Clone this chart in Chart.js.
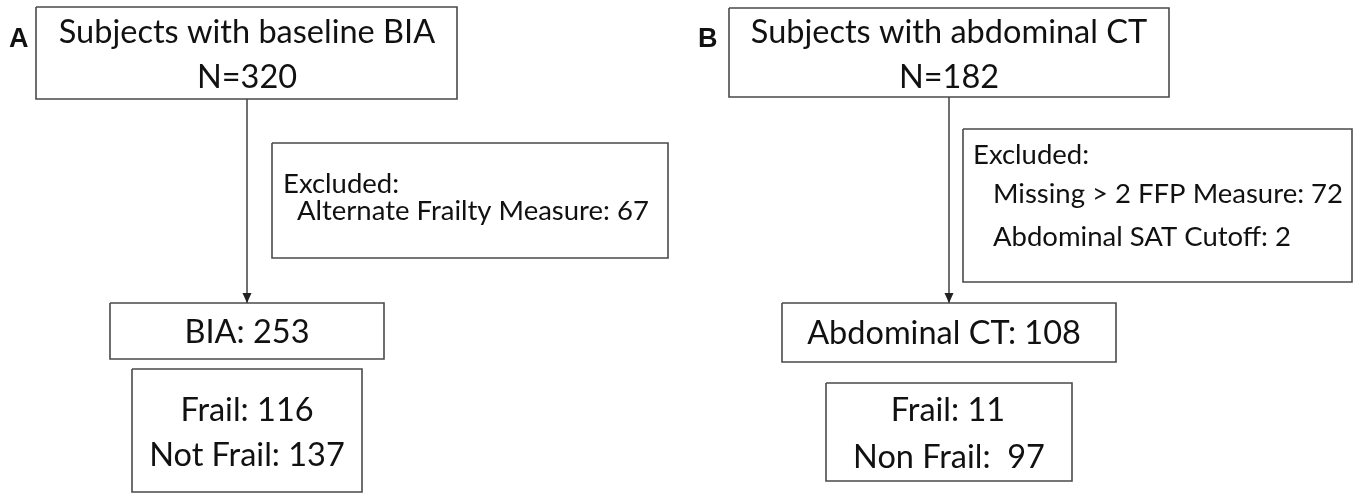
<!DOCTYPE html>
<html>
<head>
<meta charset="utf-8">
<script src="https://cdn.jsdelivr.net/npm/chart.js@4/dist/chart.umd.min.js"></script>
<style>
  html, body { margin: 0; padding: 0; background: #fff; }
  #wrap { width: 1356px; height: 493px; }
</style>
</head>
<body>
<div id="wrap"><canvas id="flow"></canvas></div>
<script>
// Panel letters
const panelLabels = ["A", "B"];

// Text of each box in the flow chart, one array of lines per box
const boxTexts = [
  ["Subjects with baseline BIA", "N=320"],
  ["Excluded:", "Alternate Frailty Measure: 67"],
  ["BIA: 253"],
  ["Frail: 116", "Not Frail: 137"],
  ["Subjects with abdominal CT", "N=182"],
  ["Excluded:", "Missing > 2 FFP Measure: 72", "Abdominal SAT Cutoff: 2"],
  ["Abdominal CT: 108"],
  ["Frail: 11", "Non Frail:  97"],
];

// Layout (diagram units = a 1356 x 493 sheet), kept apart from the text above
const boxRects = [
  [36, 7, 457, 99],
  [272, 143, 668, 258],
  [110, 303, 384, 359],
  [132, 369, 362, 492],
  [729, 8, 1169, 97],
  [963, 129, 1352, 282],
  [782, 303, 1116, 362],
  [826, 383, 1072, 481],
];
// where each line of text sits: [x, baseline y], align per box
const boxAlign = ["center", "left", "center", "center", "center", "left", "center", "center"];
const boxLineAnchors = [
  [[247, 43], [247, 88]],
  [[283, 193], [297, 220]],
  [[247, 343]],
  [[247, 421], [247, 466]],
  [[949, 43], [949, 88]],
  [[973, 164], [993, 203], [993, 246]],
  [[944, 344]],
  [[948, 421], [949, 468]],
];
const boxFontSize = [32.5, 27.5, 32.5, 32.5, 32.5, 27.5, 32.5, 32.5];
const arrows = [
  [[247, 99], [247, 303]],
  [[949, 97], [949, 303]],
];
const panelAnchors = [[9, 47], [698, 47]];

const boxColor = "#4a4a4a";
const textColor = "#111";

// closed outline for each box, drawn as a line dataset
const boxDatasets = boxRects.map((r) => ({
  data: [
    { x: r[0], y: r[1] },
    { x: r[2], y: r[1] },
    { x: r[2], y: r[3] },
    { x: r[0], y: r[3] },
    { x: r[0], y: r[1] },
  ],
  showLine: true,
  borderColor: boxColor,
  borderWidth: 1.6,
  pointRadius: 0,
  tension: 0,
  fill: false,
}));

const arrowDatasets = arrows.map((a) => ({
  data: a.map((p) => ({ x: p[0], y: p[1] })),
  showLine: true,
  borderColor: "#333",
  borderWidth: 1.4,
  pointRadius: 0,
  fill: false,
}));

// draws texts, panel letters and the arrow heads using the chart's scales
const flowText = {
  id: "flowText",
  afterDatasetsDraw(chart) {
    const ctx = chart.ctx;
    const xs = chart.scales.x;
    const ys = chart.scales.y;
    ctx.save();

    // arrow heads
    ctx.fillStyle = "#222";
    arrows.forEach((a) => {
      const tx = xs.getPixelForValue(a[1][0]);
      const ty = ys.getPixelForValue(a[1][1]);
      ctx.beginPath();
      ctx.moveTo(tx, ty);
      ctx.lineTo(tx - 4.5, ty - 10);
      ctx.lineTo(tx + 4.5, ty - 10);
      ctx.closePath();
      ctx.fill();
    });

    // box texts
    ctx.fillStyle = textColor;
    ctx.textBaseline = "alphabetic";
    boxTexts.forEach((lines, i) => {
      ctx.font = boxFontSize[i] + "px Lato, 'Open Sans', sans-serif";
      ctx.textAlign = boxAlign[i];
      lines.forEach((line, j) => {
        const p = boxLineAnchors[i][j];
        ctx.fillText(line, xs.getPixelForValue(p[0]), ys.getPixelForValue(p[1]));
      });
    });

    // panel letters
    ctx.font = "bold 27px 'Liberation Sans', Arial, sans-serif";
    ctx.textAlign = "left";
    panelLabels.forEach((lab, i) => {
      const p = panelAnchors[i];
      ctx.fillText(lab, xs.getPixelForValue(p[0]), ys.getPixelForValue(p[1]));
    });
    ctx.restore();
  },
};

new Chart(document.getElementById("flow"), {
  type: "scatter",
  data: { datasets: [...boxDatasets, ...arrowDatasets] },
  options: {
    responsive: true,
    maintainAspectRatio: false,
    animation: false,
    layout: { padding: 0 },
    scales: {
      x: { type: "linear", min: 0, max: 1356, display: false },
      y: { type: "linear", min: 0, max: 493, reverse: true, display: false },
    },
    plugins: {
      legend: { display: false },
      tooltip: { enabled: false },
    },
    events: [],
  },
  plugins: [flowText],
});
</script>
</body>
</html>
